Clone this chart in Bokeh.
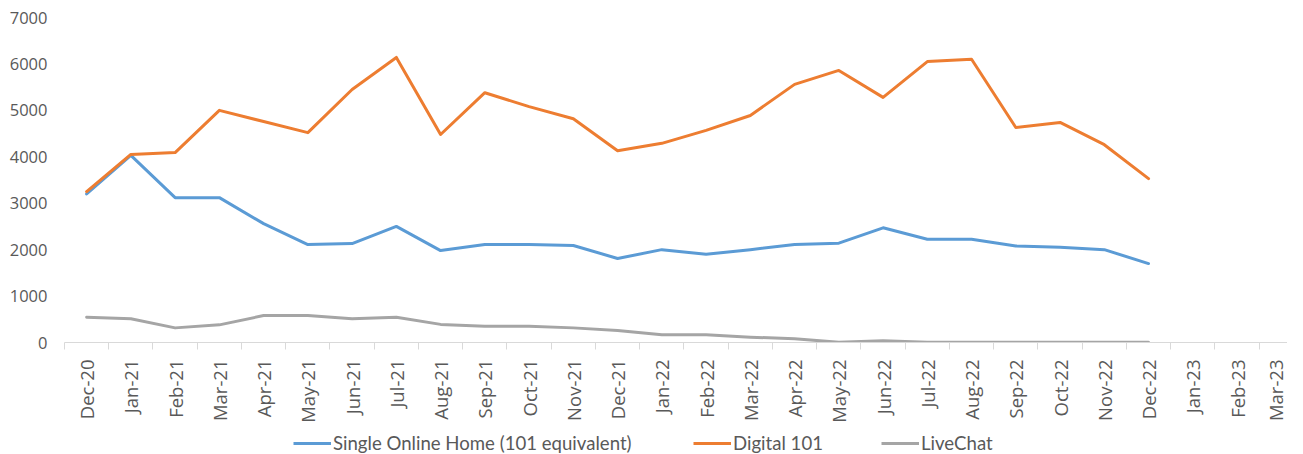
import numpy as np
from bokeh.plotting import figure
from bokeh.layouts import column
from bokeh.models import Legend, LegendItem, FixedTicker, ColumnDataSource
from bokeh.embed import file_html
from bokeh.resources import INLINE

months = ["Dec-20", "Jan-21", "Feb-21", "Mar-21", "Apr-21", "May-21", "Jun-21", "Jul-21",
          "Aug-21", "Sep-21", "Oct-21", "Nov-21", "Dec-21", "Jan-22", "Feb-22", "Mar-22",
          "Apr-22", "May-22", "Jun-22", "Jul-22", "Aug-22", "Sep-22", "Oct-22", "Nov-22",
          "Dec-22", "Jan-23", "Feb-23", "Mar-23"]

single_online_home = [3200, 4030, 3120, 3120, 2560, 2110, 2130, 2500, 1980, 2110, 2110, 2090,
                      1810, 2000, 1900, 2000, 2110, 2140, 2470, 2225, 2225, 2080, 2050, 2000, 1700]
digital_101 = [3250, 4050, 4090, 5000, 4760, 4520, 5450, 6140, 4480, 5380, 5080, 4820,
               4130, 4290, 4570, 4890, 5560, 5860, 5280, 6050, 6100, 4630, 4740, 4260, 3530]
livechat = [545, 510, 315, 380, 580, 580, 510, 545, 390, 350, 350, 315,
            260, 165, 165, 115, 80, 5, 40, 5, 5, 5, 5, 5, 5]

series_names = ["Single Online Home (101 equivalent)", "Digital 101", "LiveChat"]
colors = ["#5B9BD5", "#ED7D31", "#A5A5A5"]
y_ticks = [0, 1000, 2000, 3000, 4000, 5000, 6000, 7000]

p = figure(width=1287, height=425, output_backend="svg", toolbar_location=None,
           title=None, x_range=(-0.5, 27.14), y_range=(0, 7000),
           min_border_left=64, min_border_right=0, min_border_top=17, min_border_bottom=82)
p.outline_line_color = None
p.xgrid.visible = False
p.ygrid.visible = False

sources = []
for vals, col in zip([single_online_home, digital_101, livechat], colors):
    src = ColumnDataSource(dict(x=list(range(len(vals))), y=vals))
    sources.append(src)
    p.line("x", "y", source=src, line_color=col, line_width=3,
           line_join="round", line_cap="round")

# x axis
xa = p.xaxis[0]
xa.ticker = FixedTicker(ticks=list(range(len(months))),
                        minor_ticks=[i - 0.5 for i in range(len(months) + 1)])
xa.major_label_overrides = {i: m for i, m in enumerate(months)}
xa.major_label_orientation = np.pi / 2
xa.major_tick_out = 0
xa.major_tick_in = 0
xa.minor_tick_out = 7
xa.minor_tick_in = 0
xa.minor_tick_line_color = "#D9D9D9"
xa.axis_line_color = "#D9D9D9"
xa.axis_line_width = 1
xa.major_label_standoff = 10
xa.major_label_text_font = "Open Sans"
xa.major_label_text_font_size = "18.5px"
xa.major_label_text_color = "#595959"

# y axis
ya = p.yaxis[0]
ya.ticker = FixedTicker(ticks=y_ticks)
ya.axis_line_color = None
ya.major_tick_line_color = None
ya.minor_tick_line_color = None
ya.major_label_standoff = 11
ya.major_label_text_font = "Open Sans"
ya.major_label_text_font_size = "16.5px"
ya.major_label_text_color = "#595959"

# legend strip below the chart (its own frame, so the legend is not clipped)
pl = figure(width=1287, height=29, output_backend="svg", toolbar_location=None,
            title=None, x_axis_type=None, y_axis_type=None,
            x_range=(100, 101), y_range=(100000, 100001),
            min_border_left=0, min_border_right=0, min_border_top=0, min_border_bottom=0)
pl.outline_line_color = None
pl.xgrid.visible = False
pl.ygrid.visible = False

legend_x = [229, 629, 817]
for name, src, col, lx in zip(series_names, sources, colors, legend_x):
    r = pl.line("x", "y", source=src, line_color=col, line_width=3)
    leg = Legend(items=[LegendItem(label=name, renderers=[r])], location=(lx, 0),
                 orientation="horizontal", padding=0, margin=0, spacing=0,
                 glyph_width=38, glyph_height=20, label_height=20, label_standoff=2,
                 border_line_color=None, background_fill_alpha=0,
                 label_text_font="Lato", label_text_font_size="18.6px",
                 label_text_color="#595959")
    pl.add_layout(leg, "center")

layout = column(p, pl, spacing=0)
open("out.html", "w").write(file_html(layout, INLINE))
